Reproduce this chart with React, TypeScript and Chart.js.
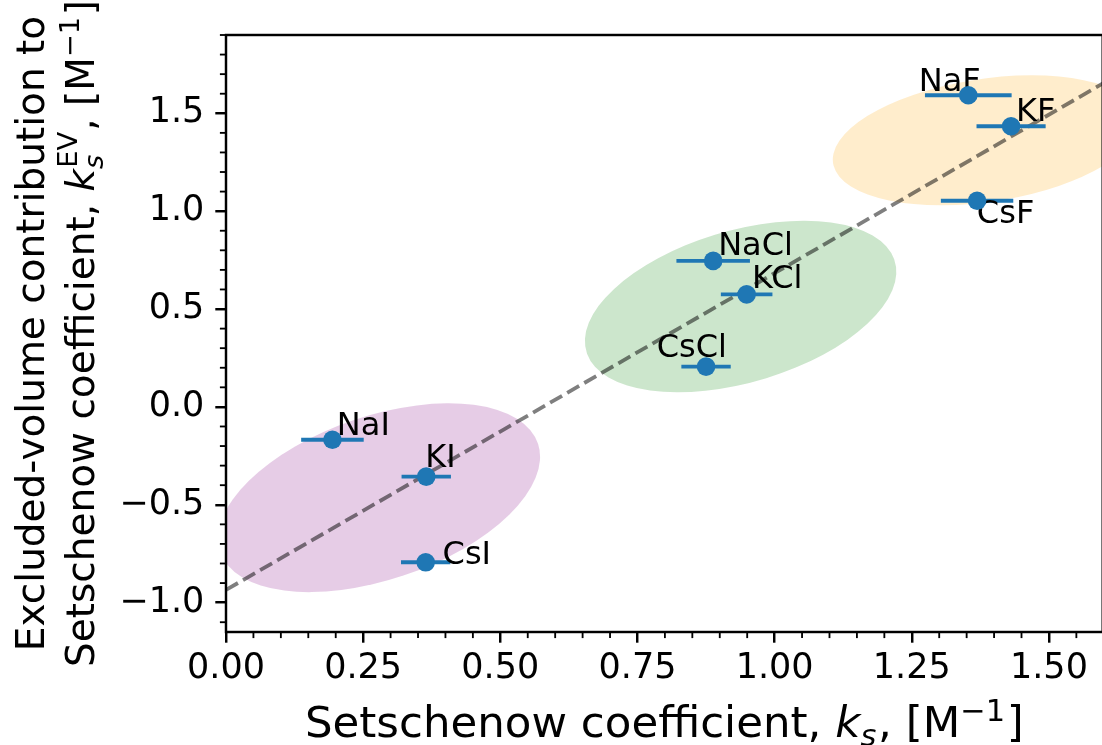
import { useEffect, useRef } from 'react';
import { Chart, registerables } from 'chart.js';

Chart.register(...registerables);

// ---------- data ----------
const SALTS = ['NaF', 'KF', 'CsF', 'NaCl', 'KCl', 'CsCl', 'NaI', 'KI', 'CsI'];
const KS = [1.353, 1.431, 1.369, 0.888, 0.949, 0.875, 0.194, 0.365, 0.364];
const KS_EV = [1.592, 1.434, 1.053, 0.746, 0.575, 0.206, -0.168, -0.356, -0.794];
const KS_ERR = [0.079, 0.063, 0.066, 0.067, 0.047, 0.045, 0.057, 0.045, 0.045];

const FIT_X = [0, 1.6];
const FIT_Y = [-0.935, 1.655];

// grouping ellipses (data units): centre, full width along rotated axis, full height, angle (deg)
const GROUP_NAMES = ['iodides', 'chlorides', 'fluorides'];
const GROUP_CX = [0.279, 0.938, 1.386];
const GROUP_CY = [-0.464, 0.513, 1.362];
const GROUP_W = [1.01, 0.92, 0.71];
const GROUP_H = [0.505, 0.495, 0.5];
const GROUP_ANGLE = [70, 69, 60];

const X_MIN = 0;
const X_MAX = 1.598;
const Y_MIN = -1.15;
const Y_MAX = 1.9;
const X_TICKS = [0, 0.25, 0.5, 0.75, 1.0, 1.25, 1.5];
const X_MINOR = [0.05, 0.1, 0.15, 0.2, 0.3, 0.35, 0.4, 0.45, 0.55, 0.6, 0.65, 0.7, 0.8, 0.85, 0.9, 0.95,
  1.05, 1.1, 1.15, 1.2, 1.3, 1.35, 1.4, 1.45, 1.55];
const Y_TICKS = [-1.0, -0.5, 0.0, 0.5, 1.0, 1.5];
const Y_MINOR = [-1.1, -0.9, -0.8, -0.7, -0.6, -0.4, -0.3, -0.2, -0.1, 0.1, 0.2, 0.3, 0.4, 0.6, 0.7, 0.8, 0.9,
  1.1, 1.2, 1.3, 1.4, 1.6, 1.7, 1.8, 1.9];

// ---------- styles ----------
const GROUP_COLORS = ['rgba(128,0,128,0.2)', 'rgba(0,128,0,0.2)', 'rgba(255,165,0,0.2)'];
const LABEL_DX = [-49.5, 5, -0.2, 5, 5.3, -49.4, 4.4, -1, 16.9];
const LABEL_DY = [-4.3, -5, 22.6, -5.7, -6, -10, -5, -10, 1.6];
const BLUE = '#1f77b4';
const FONT = '"DejaVu Sans", "Noto Sans", sans-serif';

type Run = { t?: string; it?: boolean; pos?: 'sub' | 'sup'; sub?: string; sup?: string };

function fontStr(size: number, it?: boolean) {
  return `${it ? 'italic ' : ''}${size}px ${FONT}`;
}

function runWidth(ctx: CanvasRenderingContext2D, r: Run, size: number) {
  const s = size * 0.7;
  if (r.sub !== undefined || r.sup !== undefined) {
    ctx.font = fontStr(s, true);
    const w1 = ctx.measureText(r.sub || '').width;
    ctx.font = fontStr(s, false);
    const w2 = ctx.measureText(r.sup || '').width;
    return Math.max(w1, w2) + size * 0.06;
  }
  ctx.font = fontStr(r.pos ? s : size, r.it);
  return ctx.measureText(r.t || '').width + (r.pos ? size * 0.04 : 0);
}

function drawRuns(ctx: CanvasRenderingContext2D, runs: Run[], size: number) {
  // centred on 0, baseline at 0 in current transform
  const widths = runs.map((r) => runWidth(ctx, r, size));
  const total = widths.reduce((a, b) => a + b, 0);
  let x = -total / 2;
  ctx.textAlign = 'left';
  ctx.textBaseline = 'alphabetic';
  ctx.fillStyle = '#000';
  runs.forEach((r, i) => {
    const s = size * 0.7;
    if (r.sub !== undefined || r.sup !== undefined) {
      ctx.font = fontStr(s, true);
      ctx.fillText(r.sub || '', x, size * 0.24);
      ctx.font = fontStr(s, false);
      ctx.fillText(r.sup || '', x + size * 0.03, -size * 0.42);
    } else if (r.pos === 'sub') {
      ctx.font = fontStr(s, r.it);
      ctx.fillText(r.t || '', x, size * 0.2);
    } else if (r.pos === 'sup') {
      ctx.font = fontStr(s, r.it);
      ctx.fillText(r.t || '', x, -size * 0.36);
    } else {
      ctx.font = fontStr(size, r.it);
      ctx.fillText(r.t || '', x, 0);
    }
    x += widths[i];
  });
}

const X_TITLE: Run[] = [
  { t: 'Setschenow coefficient, ' },
  { t: 'k', it: true },
  { t: 's', it: true, pos: 'sub' },
  { t: ', [M' },
  { t: '\u22121', pos: 'sup' },
  { t: ']' },
];
const Y_TITLE_1: Run[] = [{ t: 'Excluded-volume contribution to' }];
const Y_TITLE_2: Run[] = [
  { t: 'Setschenow coefficient, ' },
  { t: 'k', it: true },
  { sub: 's', sup: 'EV' },
  { t: ', [M' },
  { t: '\u22121', pos: 'sup' },
  { t: ']' },
];

const decorPlugin = {
  id: 'decor',
  beforeDatasetsDraw(chart: any) {
    const { ctx, chartArea: a, scales } = chart;
    const x = scales.x;
    const y = scales.y;
    ctx.save();
    ctx.beginPath();
    ctx.rect(a.left, a.top, a.right - a.left, a.bottom - a.top);
    ctx.clip();
    const sx = x.getPixelForValue(1) - x.getPixelForValue(0);
    const sy = y.getPixelForValue(1) - y.getPixelForValue(0);
    GROUP_NAMES.forEach((_n, i) => {
      ctx.save();
      ctx.translate(x.getPixelForValue(GROUP_CX[i]), y.getPixelForValue(GROUP_CY[i]));
      ctx.scale(sx, sy);
      ctx.rotate((GROUP_ANGLE[i] * Math.PI) / 180);
      ctx.beginPath();
      ctx.ellipse(0, 0, GROUP_W[i] / 2, GROUP_H[i] / 2, 0, 0, 2 * Math.PI);
      ctx.restore();
      ctx.fillStyle = GROUP_COLORS[i];
      ctx.fill();
    });
    ctx.restore();
  },
  beforeDatasetDraw(chart: any, args: any) {
    if (args.index !== 0) return;
    const { ctx, scales } = chart;
    const x = scales.x;
    const y = scales.y;
    ctx.save();
    ctx.strokeStyle = BLUE;
    ctx.lineWidth = 3.9;
    ctx.lineCap = 'butt';
    KS.forEach((v, i) => {
      const py = y.getPixelForValue(KS_EV[i]);
      ctx.beginPath();
      ctx.moveTo(x.getPixelForValue(v - KS_ERR[i]), py);
      ctx.lineTo(x.getPixelForValue(v + KS_ERR[i]), py);
      ctx.stroke();
    });
    ctx.fillStyle = '#000';
    ctx.font = fontStr(32);
    ctx.textAlign = 'left';
    ctx.textBaseline = 'alphabetic';
    SALTS.forEach((s, i) => {
      ctx.fillText(s, x.getPixelForValue(KS[i]) + LABEL_DX[i], y.getPixelForValue(KS_EV[i]) + LABEL_DY[i]);
    });
    ctx.restore();
  },
  afterDraw(chart: any) {
    const { ctx, chartArea: a, scales } = chart;
    const x = scales.x;
    const y = scales.y;
    ctx.save();
    // frame
    ctx.strokeStyle = '#000';
    ctx.lineWidth = 2.46;
    ctx.strokeRect(a.left, a.top, a.right - a.left, a.bottom - a.top);
    // minor ticks
    ctx.lineWidth = 1.84;
    X_MINOR.forEach((v) => {
      const px = x.getPixelForValue(v);
      ctx.beginPath();
      ctx.moveTo(px, a.bottom);
      ctx.lineTo(px, a.bottom + 6.1);
      ctx.stroke();
    });
    Y_MINOR.forEach((v) => {
      const py = y.getPixelForValue(v);
      ctx.beginPath();
      ctx.moveTo(a.left, py);
      ctx.lineTo(a.left - 6.1, py);
      ctx.stroke();
    });
    // axis titles
    ctx.save();
    ctx.translate((a.left + a.right) / 2, 737);
    drawRuns(ctx, X_TITLE, 43.5);
    ctx.restore();
    const cy = (a.top + a.bottom) / 2;
    ctx.save();
    ctx.translate(43.5, cy);
    ctx.rotate(-Math.PI / 2);
    drawRuns(ctx, Y_TITLE_1, 39);
    ctx.restore();
    ctx.save();
    ctx.translate(93.5, cy);
    ctx.rotate(-Math.PI / 2);
    drawRuns(ctx, Y_TITLE_2, 39);
    ctx.restore();
    ctx.restore();
  },
};

export default function App() {
  const ref = useRef<HTMLCanvasElement>(null);
  useEffect(() => {
    const points = KS.map((v, i) => ({ x: v, y: KS_EV[i] }));
    const fit = FIT_X.map((v, i) => ({ x: v, y: FIT_Y[i] }));
    const chart = new Chart(ref.current as HTMLCanvasElement, {
      type: 'scatter',
      data: {
        datasets: [
          {
            type: 'scatter',
            label: 'salts',
            data: points,
            pointRadius: 9.3,
            pointBackgroundColor: BLUE,
            pointBorderWidth: 0,
            order: 0,
          } as any,
          {
            type: 'line',
            label: 'fit',
            data: fit,
            borderColor: 'rgba(0,0,0,0.5)',
            borderWidth: 3.8,
            borderDash: [13.8, 5.9],
            pointRadius: 0,
            fill: false,
            showLine: true,
            order: 1,
          } as any,
        ],
      },
      options: {
        responsive: false,
        animation: false,
        devicePixelRatio: 1,
        events: [],
        layout: { padding: { top: 35, right: 4, left: 0, bottom: 0 } },
        plugins: { legend: { display: false }, tooltip: { enabled: false } },
        scales: {
          x: {
            type: 'linear',
            min: X_MIN,
            max: X_MAX,
            afterBuildTicks: (axis: any) => {
              axis.ticks = X_TICKS.map((v) => ({ value: v }));
            },
            afterFit: (axis: any) => {
              axis.height = 113;
            },
            border: { display: false },
            grid: { display: true, drawOnChartArea: false, drawTicks: true, tickLength: 10.7, tickWidth: 2.46, tickColor: '#000', color: '#000', lineWidth: 2.46 },
            ticks: {
              autoSkip: false,
              maxRotation: 0,
              minRotation: 0,
              padding: 5,
              color: '#000',
              font: { family: 'DejaVu Sans', size: 35 },
              callback: (v: any) => Number(v).toFixed(2),
            },
          },
          y: {
            type: 'linear',
            min: Y_MIN,
            max: Y_MAX,
            afterBuildTicks: (axis: any) => {
              axis.ticks = Y_TICKS.map((v) => ({ value: v }));
            },
            afterFit: (axis: any) => {
              axis.width = 226;
            },
            border: { display: false },
            grid: { display: true, drawOnChartArea: false, drawTicks: true, tickLength: 10.7, tickWidth: 2.46, tickColor: '#000', color: '#000', lineWidth: 2.46 },
            ticks: {
              autoSkip: false,
              padding: 11,
              color: '#000',
              font: { family: 'DejaVu Sans', size: 35 },
              callback: (v: any) => Number(v).toFixed(1).replace('-', '\u2212'),
            },
          },
        },
      } as any,
      plugins: [decorPlugin],
    });
    return () => chart.destroy();
  }, []);
  return (
    <div style={{ position: 'fixed', left: 0, top: 0, width: 1102, height: 745, overflow: 'hidden', background: '#fff' }}>
      <canvas ref={ref} width={1112} height={745} style={{ display: 'block', width: 1112, height: 745 }} />
    </div>
  );
}
